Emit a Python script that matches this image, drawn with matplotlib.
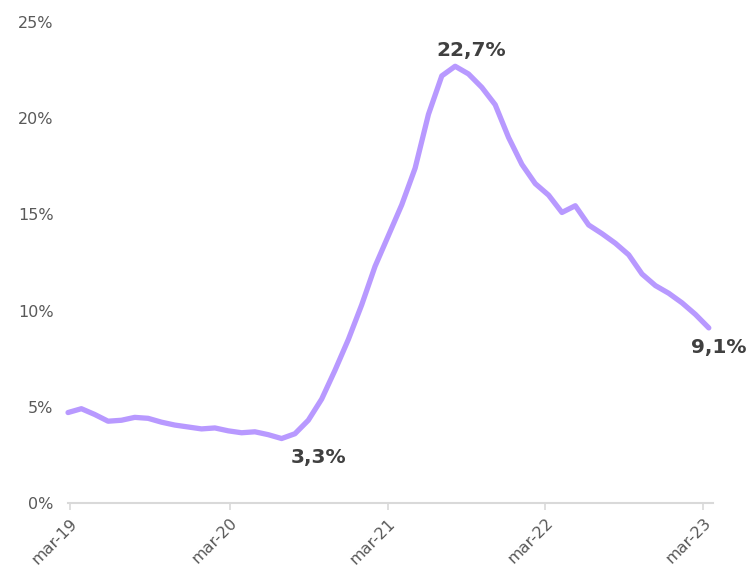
import matplotlib
matplotlib.use("Agg")
import matplotlib.pyplot as plt
from matplotlib.ticker import FuncFormatter

# monthly rate, mar-19 .. mar-23 (in %)
months = list(range(49))
rate = [4.7, 4.9, 4.6, 4.25, 4.3, 4.45, 4.4, 4.2, 4.05, 3.95,
        3.85, 3.9, 3.75, 3.65, 3.7, 3.55, 3.35, 3.6, 4.3, 5.4,
        6.9, 8.5, 10.3, 12.3, 13.9, 15.5, 17.4, 20.2, 22.2, 22.7,
        22.3, 21.6, 20.7, 19.0, 17.6, 16.6, 16.0, 15.1, 15.45, 14.45,
        14.0, 13.5, 12.9, 11.9, 11.3, 10.9, 10.4, 9.8, 9.1]
tick_pos = [0.15, 12.1, 23.95, 35.75, 47.6]
tick_labels = ["mar-19", "mar-20", "mar-21", "mar-22", "mar-23"]
y_ticks = [0, 5, 10, 15, 20, 25]
# labelled points: (index, text)
callouts = [(16, "3,3%"), (29, "22,7%"), (48, "9,1%")]

plt.rcParams['font.family'] = ['DejaVu Sans']

fig = plt.figure(figsize=(7.55, 5.73), dpi=100)
ax = fig.add_axes([0.0901, 0.1222, 0.854, 0.8394])

ax.plot(months, rate, color="#b899ff", linewidth=3.8,
        solid_joinstyle="round", solid_capstyle="round", clip_on=False)

ax.set_xlim(0, 48.3)
ax.set_ylim(0, 25)
ax.set_yticks(y_ticks)
ax.yaxis.set_major_formatter(FuncFormatter(lambda v, p: f"{v:.0f}%"))
ax.set_xticks(tick_pos)
ax.set_xticklabels(tick_labels, rotation=45, ha="right", rotation_mode="anchor")

for side in ["top", "right", "left"]:
    ax.spines[side].set_visible(False)
ax.spines["bottom"].set_color("#d9d9d9")
ax.spines["bottom"].set_linewidth(1.5)
ax.tick_params(axis="y", length=0, pad=10.5, labelsize=11.5, labelcolor="#595959")
ax.tick_params(axis="x", length=5, width=1.2, color="#d9d9d9", pad=4,
               labelsize=11.5, labelcolor="#595959")

offsets = {16: (2.75, -1.0), 29: (1.2, 0.8), 48: (0.75, -1.0)}
for idx, txt in callouts:
    dx, dy = offsets[idx]
    ax.text(idx + dx, rate[idx] + dy, txt, ha="center", va="center",
            fontsize=14.5, fontweight="bold", color="#404040", clip_on=False)

fig.savefig("out.png", dpi=100)
